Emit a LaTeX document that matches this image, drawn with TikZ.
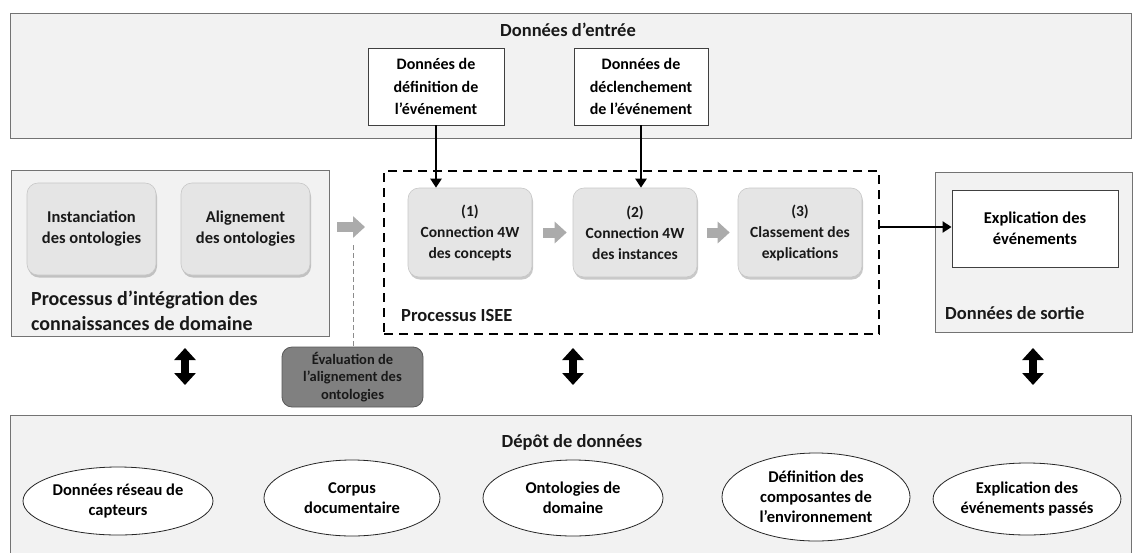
\documentclass[tikz,border=0pt]{standalone}
\usepackage{fontspec}
\setmainfont{Carlito}
\usetikzlibrary{arrows.meta,shadows,shapes.geometric,calc}
\newcommand\myfs[2]{\fontsize{#1}{#2}\selectfont\bfseries}
\begin{document}
\begin{tikzpicture}[x=1pt,y=-1pt,
  panel/.style={draw=black!55, fill=black!5, line width=1.1pt},
  whitebox/.style={draw=black!75, fill=white, line width=0.9pt, align=center, inner sep=0pt},
  procbox/.style={rounded corners=11pt, fill=black!10, draw=black!22, line width=0.6pt,
     drop shadow={shadow xshift=1pt, shadow yshift=-2.5pt, opacity=0.35, fill=black!60},
     align=center, inner sep=0pt, text=black!90},
  evalbox/.style={rounded corners=10pt, fill=black!50, draw=black!65, line width=0.8pt,
     align=center, inner sep=0pt, text=black!90, font=\myfs{14.5}{17.5}},
  oval/.style={ellipse, draw=black!85, fill=white, line width=0.8pt, align=center, inner sep=0pt,
     font=\myfs{16.5}{20}},
  greyarrow/.style={line width=10pt, draw=black!33, -{Triangle[length=12pt,width=21pt]}},
  blackarrow/.style={line width=2.5pt, draw=black, -{Triangle[length=9pt,width=11pt]}},
  dblarrow/.style={line width=8pt, draw=black, {Triangle[length=12pt,width=21pt]}-{Triangle[length=12pt,width=21pt]}},
  isee/.style={draw=black, line width=2.3pt, dash pattern=on 9pt off 6pt},
  title/.style={inner sep=0pt, text=black!90},
]
\useasboundingbox (0,0) rectangle (1137,552);
\fill[white] (0,0) rectangle (1137,552);

% panels
\node[panel, anchor=north west, minimum width=1121pt, minimum height=125pt, inner sep=0pt] (top) at (10,13) {};
\node[panel, anchor=north west, minimum width=318pt, minimum height=166pt, inner sep=0pt] (left) at (11,170) {};
\node[panel, anchor=north west, minimum width=197pt, minimum height=160pt, inner sep=0pt] (right) at (935,172) {};
\node[panel, anchor=north west, minimum width=1121pt, minimum height=150pt, inner sep=0pt] (bottom) at (10,415) {};
\node[isee, anchor=north west, minimum width=495pt, minimum height=163pt, inner sep=0pt] (iseebox) at (383,170) {};

% titles
\node[title, font=\myfs{18.5}{22}] (ttop) at (568,30) {Données d’entrée};
\node[title, font=\myfs{20}{25}, align=left, anchor=west] (tleft) at (31,311) {Processus d’intégration des\\connaissances de domaine};
\node[title, font=\myfs{18.5}{22}, anchor=west] (tisee) at (401,315) {Processus ISEE};
\node[title, font=\myfs{18.5}{22}, anchor=west] (tright) at (945,313) {Données de sortie};
\node[title, font=\myfs{18.5}{22}] (tbottom) at (572,442) {Dépôt de données};

% input boxes
\node[whitebox, minimum width=136pt, minimum height=77pt, font=\myfs{16}{22.5}] (in1) at (436,86.5) {Données de\\définition de\\l'événement};
\node[whitebox, minimum width=134pt, minimum height=77pt, font=\myfs{16}{22.5}] (in2) at (641,86.5) {Données de\\déclenchement\\de l'événement};

% left process boxes
\node[procbox, minimum width=129pt, minimum height=92pt, font=\myfs{16.5}{21}] (inst) at (91.5,229) {Instanciation\\des ontologies};
\node[procbox, minimum width=129pt, minimum height=92pt, font=\myfs{16.5}{21}] (align) at (245.5,229) {Alignement\\des ontologies};

% ISEE steps
\node[procbox, minimum width=124pt, minimum height=89pt, font=\myfs{15.5}{21}] (n1) at (470,232.5) {(1)\\Connection 4W\\des concepts};
\node[procbox, minimum width=124pt, minimum height=89pt, font=\myfs{15.5}{21}] (n2) at (635,232.5) {(2)\\Connection 4W\\des instances};
\node[procbox, minimum width=124pt, minimum height=89pt, font=\myfs{15.5}{21}] (n3) at (800,232.5) {(3)\\Classement des\\explications};

% output
\node[whitebox, minimum width=166pt, minimum height=77pt, font=\myfs{16.5}{21}] (expl) at (1035,228.5) {Explication des\\événements};

% evaluation
\node[evalbox, minimum width=141pt, minimum height=60pt] (eval) at (352.5,377) {Évaluation de\\l’alignement des\\ontologies};

% ellipses
\node[oval, minimum width=190pt, minimum height=68pt] (e1) at (118,501) {Données réseau de\\capteurs};
\node[oval, minimum width=176pt, minimum height=76pt] (e2) at (352,498) {Corpus\\documentaire};
\node[oval, minimum width=180pt, minimum height=76pt] (e3) at (573,498) {Ontologies de\\domaine};
\node[oval, minimum width=188pt, minimum height=88pt] (e4) at (816,497) {Définition des\\composantes de\\l’environnement};
\node[oval, minimum width=170pt, minimum height=72pt] (e5) at (1027,499) {Explication des\\événements passés};

% arrows
\draw[blackarrow] (in1.south) -- (in1.south |- n1.north);
\draw[blackarrow] (in2.south) -- (in2.south |- n2.north);
\draw[greyarrow, shorten <=11pt, shorten >=6pt] (n1.east) -- (n2.west);
\draw[greyarrow, shorten <=10pt, shorten >=8pt] (n2.east) -- (n3.west);
\coordinate (ga1) at (337,227);
\coordinate (ga2) at (365,227);
\draw[greyarrow] (ga1) -- (ga2);
\coordinate (isout) at (878,227);
\draw[blackarrow] (isout) -- (expl.west |- isout);
\coordinate (dl1) at (353,245);
\draw[draw=black!45, line width=0.8pt, dash pattern=on 5pt off 3pt] (dl1) -- (dl1 |- eval.north);

\coordinate (d1a) at (185,348); \coordinate (d1b) at (185,385);
\coordinate (d2a) at (573,348); \coordinate (d2b) at (573,385);
\coordinate (d3a) at (1033,348); \coordinate (d3b) at (1033,385);
\draw[dblarrow] (d1a) -- (d1b);
\draw[dblarrow] (d2a) -- (d2b);
\draw[dblarrow] (d3a) -- (d3b);
\end{tikzpicture}
\end{document}
